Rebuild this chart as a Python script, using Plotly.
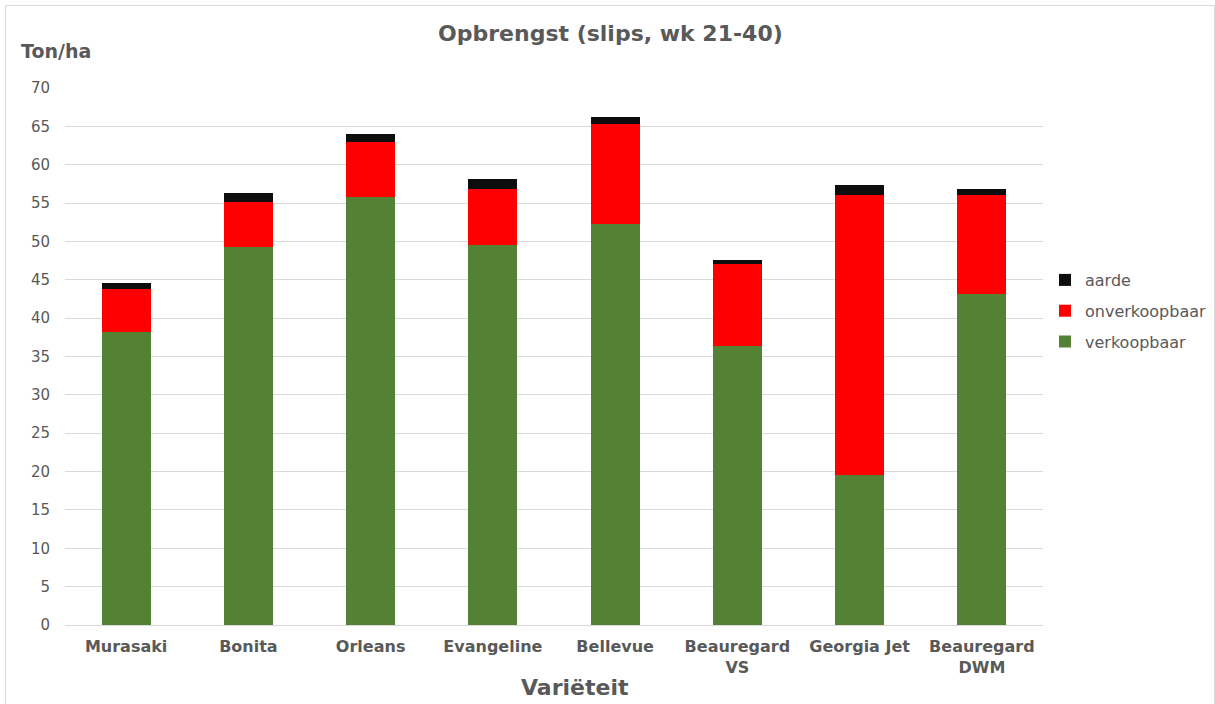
import plotly.graph_objects as go

# Opbrengst per variëteit (ton/ha), slips wk 21-40
varieteiten = ["Murasaki", "Bonita", "Orleans", "Evangeline", "Bellevue",
               "Beauregard<br>VS", "Georgia Jet", "Beauregard<br>DWM"]
verkoopbaar = [38.2, 49.3, 55.8, 49.6, 52.3, 36.4, 19.6, 43.2]
onverkoopbaar = [5.6, 5.8, 7.1, 7.2, 13.0, 10.6, 36.5, 12.8]
aarde = [0.8, 1.2, 1.1, 1.4, 0.9, 0.6, 1.3, 0.8]
y_ticks = list(range(0, 71, 5))

FONT = "DejaVu Sans"
GREY = "#595959"

fig = go.Figure()
series = [("verkoopbaar", verkoopbaar, "#548235", 3),
          ("onverkoopbaar", onverkoopbaar, "#FF0000", 2),
          ("aarde", aarde, "#0D0D0D", 1)]
for naam, waarden, kleur, rang in series:
    fig.add_trace(go.Bar(x=varieteiten, y=waarden, name=naam, legendgroup=naam,
                         legendrank=rang,
                         marker=dict(color=kleur, line=dict(width=0))))

# plot area in pixels: x 65..1043, y 88..625
W, H = 1215, 704
L, R, T, B = 65, 1215 - 1043, 88, 704 - 625
pw, ph = W - L - R, H - T - B


def px(x):
    return (x - L) / pw


def py(y):
    return (H - B - y) / ph


def label(text, x, y, size, anchor="center"):
    return dict(text=text, x=px(x), y=py(y), xref="paper", yref="paper",
                xanchor=anchor, yanchor="middle", showarrow=False,
                font=dict(size=size, color=GREY, family=FONT))


fig.update_layout(
    width=W, height=H,
    margin=dict(l=L, r=R, t=T, b=B, autoexpand=False),
    barmode="stack", bargap=0.6,
    plot_bgcolor="white", paper_bgcolor="white",
    font=dict(family=FONT, color=GREY, size=15),
    showlegend=True,
    legend=dict(traceorder="grouped", tracegroupgap=7,
                xref="container", yref="container",
                x=1045 / W, y=1 - 263 / H, xanchor="left", yanchor="top",
                font=dict(size=16, color=GREY, family=FONT),
                itemwidth=30, bgcolor="rgba(0,0,0,0)"),
    xaxis=dict(showgrid=False, showline=True, linecolor="#d9d9d9", linewidth=1,
               ticks="", tickvals=varieteiten,
               ticktext=[f"<b>{v}</b>" for v in varieteiten],
               tickfont=dict(size=16, color=GREY, family=FONT),
               ticklabelstandoff=7),
    yaxis=dict(range=[0, 70], tickvals=y_ticks, showgrid=True, gridcolor="#d9d9d9",
               gridwidth=1, zeroline=False, showline=False, ticks="",
               tickfont=dict(size=15, color=GREY), ticklabelstandoff=14),
    annotations=[
        label("<b>Opbrengst (slips, wk 21-40)</b>", 610, 33, 22),
        label("<b>Ton/ha</b>", 19, 51, 19, anchor="left"),
        label("<b>Variëteit</b>", 575, 687, 22),
    ],
    shapes=[dict(type="rect", xref="paper", yref="paper",
                 x0=px(5.5), x1=px(1214.5), y0=py(706), y1=py(5.5),
                 line=dict(color="#d9d9d9", width=1), layer="below")],
)

fig.write_html("out.html")
